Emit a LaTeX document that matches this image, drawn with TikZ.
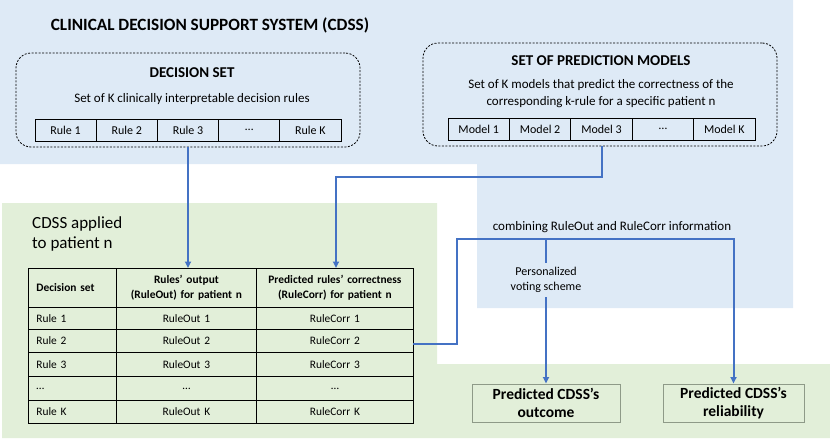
\documentclass[tikz,border=0pt]{standalone}
\usepackage{fontspec}
\setmainfont{Carlito}
\usetikzlibrary{arrows.meta}
\definecolor{bgblue}{HTML}{DEEAF6}
\definecolor{bggreen}{HTML}{E2EFD9}
\definecolor{lineblue}{HTML}{4472C4}
\definecolor{boxgray}{HTML}{8E9A88}
\tikzset{
  cellbox/.style={draw=black, line width=0.9pt, inner ysep=0pt, inner xsep=5pt, anchor=north west, font=\fontsize{11.4}{14.7}\selectfont},
  leftcell/.style={cellbox, inner xsep=8pt, text width=72pt, align=left},
  rulecell/.style={draw=black, fill=bgblue, line width=0.9pt, minimum width=61.2pt, minimum height=22pt, inner sep=0pt, font=\fontsize{12}{14}\selectfont},
  dashbox/.style={draw=black, dash pattern=on 2pt off 1.5pt, rounded corners=15pt, line width=0.8pt, inner sep=0pt},
  flow/.style={draw=lineblue, line width=2pt},
  arr/.style={flow, -{Triangle[length=6.5pt,width=6pt]}},
  resbox/.style={draw=boxgray, fill=bggreen, line width=1pt, minimum height=38pt, align=center, inner sep=0pt, font=\bfseries\fontsize{15.5}{18.5}\selectfont},
  hdr/.style={font=\bfseries\fontsize{15}{18}\selectfont},
  body/.style={font=\fontsize{13}{17}\selectfont, align=center}
}
\begin{document}
\begin{tikzpicture}[x=1pt,y=-1pt]
\useasboundingbox (0,0) rectangle (830,442);
% backgrounds
\fill[bgblue] (0,0) -- (793,0) -- (793,308) -- (477,308) -- (477,164) -- (0,164) -- cycle;
\fill[bggreen] (2,203) -- (437,203) -- (437,364) -- (830,364) -- (830,438) -- (2,438) -- cycle;

% title
\node[font=\bfseries\fontsize{17.2}{20}\selectfont] (title) at (210,25) {CLINICAL DECISION SUPPORT SYSTEM (CDSS)};

% decision set
\node[dashbox, minimum width=344pt, minimum height=94pt] (ds) at (188,100) {};
\node[hdr] (dstitle) at (192,73) {DECISION SET};
\node[body] (dstext) at (192,99) {Set of K clinically interpretable decision rules};
\node[rulecell] (r1) at (65.6,130) {Rule 1};
\node[rulecell] (r2) at (126.8,130) {Rule 2};
\node[rulecell] (r3) at (188,130) {Rule 3};
\node[rulecell] (r4) at (249.2,130) {…};
\node[rulecell] (r5) at (310.4,130) {Rule K};

% prediction models
\node[dashbox, minimum width=354pt, minimum height=103pt] (pm) at (600,94.5) {};
\node[hdr] (pmtitle) at (601,61) {SET OF PREDICTION MODELS};
\node[body] (pmtext) at (601,93.5) {Set of K models that predict the correctness of the\\corresponding k-rule for a specific patient n};
\node[rulecell, minimum width=61.4pt] (m1) at (478.7,129) {Model 1};
\node[rulecell, minimum width=61.4pt] (m2) at (540.1,129) {Model 2};
\node[rulecell, minimum width=61.4pt] (m3) at (601.5,129) {Model 3};
\node[rulecell, minimum width=61.4pt] (m4) at (662.9,129) {…};
\node[rulecell, minimum width=61.4pt] (m5) at (724.3,129) {Model K};

% CDSS applied label
\node[font=\fontsize{17}{20}\selectfont, align=left, anchor=north west, inner sep=0pt] (applied) at (32,216) {CDSS applied\\to patient n};

% table header
\node[leftcell, minimum height=39pt, font=\bfseries\fontsize{11.4}{14.7}\selectfont] (h1) at (28,268) {Decision set};
\node[cellbox, text width=130pt, minimum height=39pt, align=center, font=\bfseries\fontsize{11.4}{14.7}\selectfont] (h2) at (116,268) {Rules’ output\\(RuleOut) for patient n};
\node[cellbox, text width=147pt, minimum height=39pt, align=center, font=\bfseries\fontsize{11.4}{14.7}\selectfont] (h3) at (256,268) {Predicted rules’ correctness\\(RuleCorr) for patient n};
% table rows
\foreach \i/\yt/\h/\a/\b/\c in {1/307/22/Rule 1/RuleOut 1/RuleCorr 1,
                               2/329/23/Rule 2/RuleOut 2/RuleCorr 2,
                               3/352/24/Rule 3/RuleOut 3/RuleCorr 3,
                               4/376/24/…/…/…,
                               5/400/23/Rule K/RuleOut K/RuleCorr K}{
  \node[leftcell, minimum height=\h pt] (ca\i) at (28,\yt) {\a};
  \node[cellbox, text width=130pt, minimum height=\h pt, align=center] (cb\i) at (116,\yt) {\b};
  \node[cellbox, text width=147pt, minimum height=\h pt, align=center] (cc\i) at (256,\yt) {\c};
}

% arrows from sets to table
\draw[arr] (ds.south -| r3) -- (r3 |- h2.north);
\coordinate (j2) at (336,177);
\draw[arr] (pm.south -| m3) |- (j2) -- (j2 |- h3.north);

% combination
\node[font=\fontsize{13}{16}\selectfont] (comb) at (612,227) {combining RuleOut and RuleCorr information};
\node[font=\fontsize{12}{15.5}\selectfont, align=center, inner sep=4pt] (pv) at (546,280) {Personalized\\voting scheme};
\node[resbox, minimum width=148pt] (outc) at (546,403) {Predicted CDSS’s\\outcome};
\node[resbox, minimum width=141pt] (rel) at (733.5,403) {Predicted CDSS’s\\reliability};

\coordinate (tout) at (413,344);
\coordinate (j3) at (457,239);
\coordinate (j4) at (546,239);
\draw[arr] (tout) -| (j3) -| (rel.north);
\draw[flow] (j4) -- (pv.north);
\draw[arr] (pv.south) -- (outc.north);
\end{tikzpicture}
\end{document}
